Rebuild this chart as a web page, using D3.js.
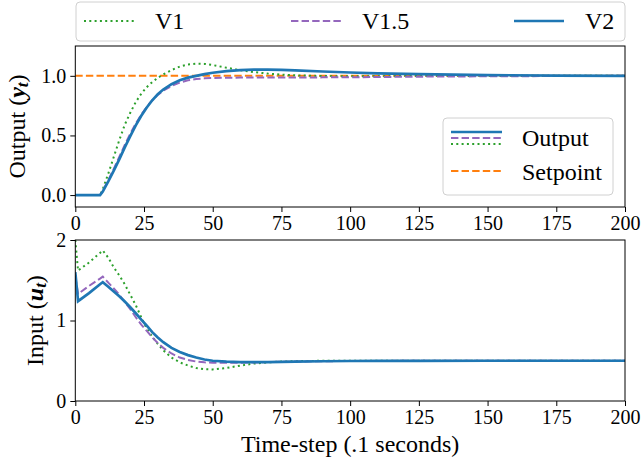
<!DOCTYPE html>
<html>
<head>
<meta charset="utf-8">
<script src="https://cdn.jsdelivr.net/npm/d3@7"></script>
<style>
  body { margin: 0; background: #fff; }
  text { font-family: "Liberation Serif", "Times New Roman", serif; fill: #000; }
</style>
</head>
<body>
<svg id="chart" width="643" height="464"></svg>
<script>
// time grid shared by every series
const steps = [0, 1, 5, 9, 10, 12, 14, 16, 18, 20, 22, 24, 26, 28, 30, 32, 35, 38, 41, 44, 47, 50,
    55, 60, 65, 70, 75, 80, 90, 100, 110, 125, 150, 175, 200];

// output y_t for each controller version
const outV1 = [0, 0, 0, 0, 0.05, 0.18, 0.32, 0.46, 0.59, 0.69, 0.78, 0.85, 0.905, 0.948, 0.983, 1.012, 1.048, 1.077, 1.095, 1.102, 1.1, 1.09,
    1.068, 1.047, 1.031, 1.019, 1.01, 1.004, 0.998, 0.996, 0.997, 0.998, 1.0, 1.0, 1.0];
const outV15 = [0, 0, 0, 0, 0.035, 0.125, 0.22, 0.32, 0.42, 0.515, 0.6, 0.675, 0.74, 0.795, 0.84, 0.875, 0.915, 0.943, 0.962, 0.973, 0.979, 0.982,
    0.984, 0.985, 0.985, 0.986, 0.986, 0.986, 0.987, 0.988, 0.99, 0.993, 0.996, 0.998, 1.0];
const outV2 = [0, 0, 0, 0, 0.03, 0.115, 0.205, 0.3, 0.4, 0.495, 0.585, 0.665, 0.735, 0.795, 0.845, 0.885, 0.93, 0.963, 0.985, 1.0, 1.014, 1.026,
    1.04, 1.048, 1.052, 1.052, 1.049, 1.045, 1.036, 1.028, 1.021, 1.014, 1.006, 1.002, 1.0];
const setpoint = 1.0;

// input u_t for each controller version
const inV1 = [2.0, 1.62, 1.72, 1.84, 1.87, 1.78, 1.66, 1.56, 1.45, 1.32, 1.19, 1.04, 0.9, 0.8, 0.71, 0.63, 0.54, 0.48, 0.44, 0.41, 0.395, 0.392,
    0.41, 0.44, 0.465, 0.48, 0.49, 0.495, 0.5, 0.5, 0.5, 0.5, 0.5, 0.5, 0.5];
const inV15 = [1.55, 1.33, 1.43, 1.52, 1.545, 1.47, 1.4, 1.32, 1.23, 1.14, 1.04, 0.95, 0.87, 0.79, 0.72, 0.66, 0.59, 0.54, 0.51, 0.49, 0.48, 0.476,
    0.474, 0.476, 0.479, 0.483, 0.487, 0.49, 0.494, 0.497, 0.498, 0.499, 0.5, 0.5, 0.5];
const inV2 = [1.6, 1.24, 1.34, 1.45, 1.475, 1.42, 1.36, 1.3, 1.235, 1.165, 1.09, 1.01, 0.935, 0.855, 0.79, 0.73, 0.66, 0.61, 0.57, 0.54, 0.515, 0.5,
    0.488, 0.483, 0.482, 0.484, 0.487, 0.49, 0.494, 0.497, 0.498, 0.499, 0.5, 0.5, 0.5];

const xTicks = [0, 25, 50, 75, 100, 125, 150, 175, 200];
const outTicks = [0, 0.5, 1.0];
const inTicks = [0, 1, 2];

const versions = [
    { name: 'V1', out: outV1, inp: inV1, color: '#2ca02c', width: 2, dash: '2,3.3' },
    { name: 'V1.5', out: outV15, inp: inV15, color: '#9467bd', width: 2, dash: '7.4,3.2' },
    { name: 'V2', out: outV2, inp: inV2, color: '#1f77b4', width: 2.7, dash: null }
];

const svg = d3.select('#chart');
svg.append('rect').attr('width', 643).attr('height', 464).attr('fill', '#fff');

const left = 75.3, right = 625;
const x = d3.scaleLinear().domain([0, 200]).range([left, right]);

// the two panels
const panels = [
    { key: 'out', top: 46, bottom: 207, y: d3.scaleLinear().domain([-0.1, 1.25]).range([207, 46]),
      ticks: outTicks, fmt: d3.format('.1f'), label: ['Output (', 'y', 't', ')'], labelX: 17 },
    { key: 'inp', top: 240, bottom: 401, y: d3.scaleLinear().domain([0, 2]).range([401, 240]),
      ticks: inTicks, fmt: d3.format('d'), label: ['Input (', 'u', 't', ')'], labelX: 35 }
];

panels.forEach(p => {
    const g = svg.append('g');
    const clipId = 'clip-' + p.key;
    svg.append('clipPath').attr('id', clipId)
        .append('rect').attr('x', left).attr('y', p.top).attr('width', right - left).attr('height', p.bottom - p.top);

    const plot = g.append('g').attr('clip-path', `url(#${clipId})`);
    const line = d3.line().x((d, i) => x(steps[i])).y(d => p.y(d));

    if (p.key === 'out') {
        plot.append('path')
            .attr('d', line(steps.map(() => setpoint)))
            .attr('fill', 'none').attr('stroke', '#ff7f0e').attr('stroke-width', 2)
            .attr('stroke-dasharray', '7.4,3.2');
    }
    // draw V1, V1.5 then V2 on top
    versions.forEach(v => {
        plot.append('path')
            .attr('d', line(v[p.key]))
            .attr('fill', 'none')
            .attr('stroke', v.color)
            .attr('stroke-width', v.width)
            .attr('stroke-dasharray', v.dash);
    });

    const xAxis = g.append('g')
        .attr('transform', `translate(0,${p.bottom})`)
        .call(d3.axisBottom(x).tickValues(xTicks).tickSize(5).tickPadding(4));
    const yAxis = g.append('g')
        .attr('transform', `translate(${left},0)`)
        .call(d3.axisLeft(p.y).tickValues(p.ticks).tickFormat(p.fmt).tickSize(5).tickPadding(4));
    [xAxis, yAxis].forEach(a => {
        a.select('.domain').remove();
        a.selectAll('line').attr('stroke', '#000').attr('stroke-width', 1);
        a.selectAll('text').attr('font-size', 20).attr('font-family', '"Liberation Serif", serif');
    });

    g.append('rect')
        .attr('x', left).attr('y', p.top).attr('width', right - left).attr('height', p.bottom - p.top)
        .attr('fill', 'none').attr('stroke', '#000').attr('stroke-width', 1);

    const cy = (p.top + p.bottom) / 2;
    const lab = g.append('text')
        .attr('transform', `translate(${p.labelX},${cy}) rotate(-90)`)
        .attr('text-anchor', 'middle')
        .attr('dominant-baseline', 'central')
        .attr('font-size', 24);
    lab.append('tspan').text(p.label[0]);
    lab.append('tspan').attr('font-weight', 'bold').attr('font-style', 'italic').text(p.label[1]);
    lab.append('tspan').attr('font-weight', 'bold').attr('font-style', 'italic')
        .attr('font-size', 17).attr('dy', 5).text(p.label[2]);
    lab.append('tspan').attr('dy', -5).text(p.label[3]);
});

svg.append('text')
    .attr('x', (left + right) / 2).attr('y', 452)
    .attr('text-anchor', 'middle')
    .attr('font-size', 24)
    .text('Time-step (.1 seconds)');

// legend above the top panel
const topLeg = svg.append('g');
topLeg.append('rect')
    .attr('x', 76).attr('y', 2).attr('width', 549).attr('height', 39).attr('rx', 4)
    .attr('fill', '#fff').attr('fill-opacity', 0.8).attr('stroke', '#d0d0d0');
const legX = [84, 291, 514];
versions.forEach((v, i) => {
    topLeg.append('line')
        .attr('x1', legX[i]).attr('x2', legX[i] + 50).attr('y1', 21).attr('y2', 21)
        .attr('stroke', v.color).attr('stroke-width', v.width).attr('stroke-dasharray', v.dash);
    topLeg.append('text')
        .attr('x', legX[i] + 71).attr('y', 29)
        .attr('font-size', 24)
        .text(v.name);
});

// legend inside the top panel
const inLeg = svg.append('g');
inLeg.append('rect')
    .attr('x', 443).attr('y', 118).attr('width', 170).attr('height', 77).attr('rx', 4)
    .attr('fill', '#fff').attr('fill-opacity', 0.8).attr('stroke', '#d0d0d0');
[...versions].reverse().forEach((v, i) => {
    inLeg.append('line')
        .attr('x1', 451).attr('x2', 502).attr('y1', 132 + i * 6).attr('y2', 132 + i * 6)
        .attr('stroke', v.color).attr('stroke-width', v.width).attr('stroke-dasharray', v.dash);
});
inLeg.append('text').attr('x', 522).attr('y', 146).attr('font-size', 24).text('Output');
inLeg.append('line')
    .attr('x1', 451).attr('x2', 502).attr('y1', 171).attr('y2', 171)
    .attr('stroke', '#ff7f0e').attr('stroke-width', 2).attr('stroke-dasharray', '7.4,3.2');
inLeg.append('text').attr('x', 522).attr('y', 180).attr('font-size', 24).text('Setpoint');
</script>
</body>
</html>
